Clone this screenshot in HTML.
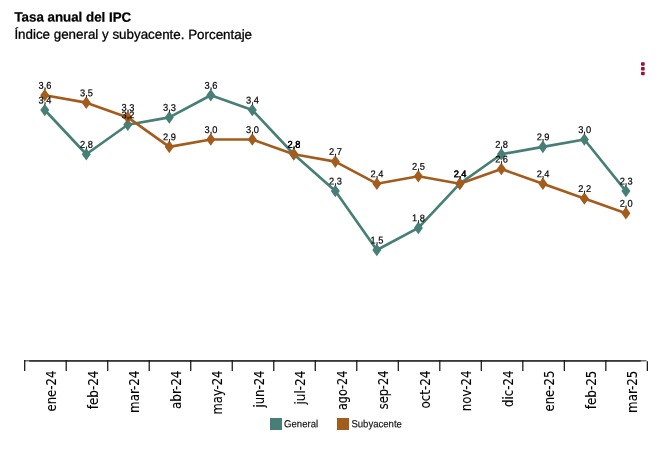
<!DOCTYPE html>
<html lang="es"><head><meta charset="utf-8"><title>Tasa anual del IPC</title>
<style>
html,body{margin:0;padding:0;background:#fff;}
body{width:665px;height:455px;overflow:hidden;position:relative;font-family:"Liberation Sans",Arial,sans-serif;}
svg{position:absolute;left:0;top:0;display:block;}
.t{font-family:"Liberation Sans",Arial,sans-serif;fill:#000;}
.ax{font-family:"DejaVu Sans Condensed","DejaVu Sans",sans-serif;font-size:14px;font-stretch:condensed;fill:#000;stroke:#000;stroke-width:0.1px;}
.dl{font-family:"Liberation Sans",Arial,sans-serif;font-size:9.8px;fill:#000;text-anchor:middle;stroke:#000;stroke-width:0.2px;}
.lg{font-family:"Liberation Sans",Arial,sans-serif;font-size:9.56px;fill:#111;stroke:#111;stroke-width:0.15px;}
</style></head><body>
<svg width="665" height="455" viewBox="0 0 665 455">
<rect width="665" height="455" fill="#fff"/>
<text class="t" transform="translate(14.4,21.55) rotate(0.05)" font-size="13.33" font-weight="bold" stroke="#000" stroke-width="0.25">Tasa anual del IPC</text>
<text class="t" transform="translate(14.4,38.75) rotate(0.05)" font-size="13.37" stroke="#000" stroke-width="0.3">Índice general y subyacente. Porcentaje</text>
<g fill="#9c1033"><rect x="641" y="62.3" width="3.7" height="3.5" rx="0.8"/><rect x="641" y="67" width="3.7" height="3.5" rx="0.8"/><rect x="641" y="71.7" width="3.7" height="3.5" rx="0.8"/></g>

<line x1="24.1" y1="360.8" x2="646.5" y2="360.8" stroke="#6c6c6c" stroke-width="1.4"/>
<line x1="29.3" y1="360.9" x2="640.8" y2="360.9" stroke="#383838" stroke-width="1.6"/>
<g stroke="#151515" stroke-width="1.25" fill="none">
<line x1="24.70" y1="360.1" x2="24.70" y2="371.0"/>
<line x1="66.21" y1="360.1" x2="66.21" y2="371.0"/>
<line x1="107.72" y1="360.1" x2="107.72" y2="371.0"/>
<line x1="149.23" y1="360.1" x2="149.23" y2="371.0"/>
<line x1="190.74" y1="360.1" x2="190.74" y2="371.0"/>
<line x1="232.25" y1="360.1" x2="232.25" y2="371.0"/>
<line x1="273.76" y1="360.1" x2="273.76" y2="371.0"/>
<line x1="315.27" y1="360.1" x2="315.27" y2="371.0"/>
<line x1="356.78" y1="360.1" x2="356.78" y2="371.0"/>
<line x1="398.29" y1="360.1" x2="398.29" y2="371.0"/>
<line x1="439.80" y1="360.1" x2="439.80" y2="371.0"/>
<line x1="481.31" y1="360.1" x2="481.31" y2="371.0"/>
<line x1="522.82" y1="360.1" x2="522.82" y2="371.0"/>
<line x1="564.33" y1="360.1" x2="564.33" y2="371.0"/>
<line x1="605.84" y1="360.1" x2="605.84" y2="371.0"/>
<line x1="647.35" y1="361.3" x2="647.35" y2="371.0"/>
</g>
<text class="ax" transform="translate(56.15,370.6) rotate(-90)" text-anchor="end" textLength="40.9" lengthAdjust="spacingAndGlyphs">ene-24</text>
<text class="ax" transform="translate(97.67,370.6) rotate(-90)" text-anchor="end" textLength="38.6" lengthAdjust="spacingAndGlyphs">feb-24</text>
<text class="ax" transform="translate(139.17,370.6) rotate(-90)" text-anchor="end" textLength="42.3" lengthAdjust="spacingAndGlyphs">mar-24</text>
<text class="ax" transform="translate(180.69,370.6) rotate(-90)" text-anchor="end" textLength="38.4" lengthAdjust="spacingAndGlyphs">abr-24</text>
<text class="ax" transform="translate(222.19,370.6) rotate(-90)" text-anchor="end" textLength="43.9" lengthAdjust="spacingAndGlyphs">may-24</text>
<text class="ax" transform="translate(263.70,370.6) rotate(-90)" text-anchor="end" textLength="36.9" lengthAdjust="spacingAndGlyphs">jun-24</text>
<text class="ax" transform="translate(305.21,370.6) rotate(-90)" text-anchor="end" textLength="34.0" lengthAdjust="spacingAndGlyphs">jul-24</text>
<text class="ax" transform="translate(346.72,370.6) rotate(-90)" text-anchor="end" textLength="39.5" lengthAdjust="spacingAndGlyphs">ago-24</text>
<text class="ax" transform="translate(388.23,370.6) rotate(-90)" text-anchor="end" textLength="38.7" lengthAdjust="spacingAndGlyphs">sep-24</text>
<text class="ax" transform="translate(429.74,370.6) rotate(-90)" text-anchor="end" textLength="37.9" lengthAdjust="spacingAndGlyphs">oct-24</text>
<text class="ax" transform="translate(471.25,370.6) rotate(-90)" text-anchor="end" textLength="40.6" lengthAdjust="spacingAndGlyphs">nov-24</text>
<text class="ax" transform="translate(512.76,370.6) rotate(-90)" text-anchor="end" textLength="36.5" lengthAdjust="spacingAndGlyphs">dic-24</text>
<text class="ax" transform="translate(554.27,370.6) rotate(-90)" text-anchor="end" textLength="40.9" lengthAdjust="spacingAndGlyphs">ene-25</text>
<text class="ax" transform="translate(595.78,370.6) rotate(-90)" text-anchor="end" textLength="38.6" lengthAdjust="spacingAndGlyphs">feb-25</text>
<text class="ax" transform="translate(637.29,370.6) rotate(-90)" text-anchor="end" textLength="42.3" lengthAdjust="spacingAndGlyphs">mar-25</text>
<polyline points="44.75,110.02 86.27,154.22 127.77,124.76 169.28,117.39 210.79,95.29 252.30,110.02 293.81,154.22 335.32,191.06 376.83,250.00 418.34,227.89 459.85,183.69 501.36,154.22 542.88,146.86 584.38,139.49 625.89,191.06" fill="none" stroke="#477f77" stroke-width="2.65" stroke-linejoin="round"/>
<path d="M44.75 103.72 l4.5 6.3 l-4.5 6.3 l-4.5 -6.3 z" fill="#477f77"/>
<path d="M86.27 147.92 l4.5 6.3 l-4.5 6.3 l-4.5 -6.3 z" fill="#477f77"/>
<path d="M127.77 118.46 l4.5 6.3 l-4.5 6.3 l-4.5 -6.3 z" fill="#477f77"/>
<path d="M169.28 111.09 l4.5 6.3 l-4.5 6.3 l-4.5 -6.3 z" fill="#477f77"/>
<path d="M210.79 88.99 l4.5 6.3 l-4.5 6.3 l-4.5 -6.3 z" fill="#477f77"/>
<path d="M252.30 103.72 l4.5 6.3 l-4.5 6.3 l-4.5 -6.3 z" fill="#477f77"/>
<path d="M293.81 147.92 l4.5 6.3 l-4.5 6.3 l-4.5 -6.3 z" fill="#477f77"/>
<path d="M335.32 184.76 l4.5 6.3 l-4.5 6.3 l-4.5 -6.3 z" fill="#477f77"/>
<path d="M376.83 243.69 l4.5 6.3 l-4.5 6.3 l-4.5 -6.3 z" fill="#477f77"/>
<path d="M418.34 221.59 l4.5 6.3 l-4.5 6.3 l-4.5 -6.3 z" fill="#477f77"/>
<path d="M459.85 177.39 l4.5 6.3 l-4.5 6.3 l-4.5 -6.3 z" fill="#477f77"/>
<path d="M501.36 147.92 l4.5 6.3 l-4.5 6.3 l-4.5 -6.3 z" fill="#477f77"/>
<path d="M542.88 140.56 l4.5 6.3 l-4.5 6.3 l-4.5 -6.3 z" fill="#477f77"/>
<path d="M584.38 133.19 l4.5 6.3 l-4.5 6.3 l-4.5 -6.3 z" fill="#477f77"/>
<path d="M625.89 184.76 l4.5 6.3 l-4.5 6.3 l-4.5 -6.3 z" fill="#477f77"/>
<polyline points="44.75,95.29 86.27,102.65 127.77,117.39 169.28,146.86 210.79,139.49 252.30,139.49 293.81,154.22 335.32,161.59 376.83,183.69 418.34,176.32 459.85,183.69 501.36,168.96 542.88,183.69 584.38,198.43 625.89,213.16" fill="none" stroke="#a35c1c" stroke-width="2.65" stroke-linejoin="round"/>
<path d="M44.75 88.99 l4.5 6.3 l-4.5 6.3 l-4.5 -6.3 z" fill="#a35c1c"/>
<path d="M86.27 96.35 l4.5 6.3 l-4.5 6.3 l-4.5 -6.3 z" fill="#a35c1c"/>
<path d="M127.77 111.09 l4.5 6.3 l-4.5 6.3 l-4.5 -6.3 z" fill="#a35c1c"/>
<path d="M169.28 140.56 l4.5 6.3 l-4.5 6.3 l-4.5 -6.3 z" fill="#a35c1c"/>
<path d="M210.79 133.19 l4.5 6.3 l-4.5 6.3 l-4.5 -6.3 z" fill="#a35c1c"/>
<path d="M252.30 133.19 l4.5 6.3 l-4.5 6.3 l-4.5 -6.3 z" fill="#a35c1c"/>
<path d="M293.81 147.92 l4.5 6.3 l-4.5 6.3 l-4.5 -6.3 z" fill="#a35c1c"/>
<path d="M335.32 155.29 l4.5 6.3 l-4.5 6.3 l-4.5 -6.3 z" fill="#a35c1c"/>
<path d="M376.83 177.39 l4.5 6.3 l-4.5 6.3 l-4.5 -6.3 z" fill="#a35c1c"/>
<path d="M418.34 170.02 l4.5 6.3 l-4.5 6.3 l-4.5 -6.3 z" fill="#a35c1c"/>
<path d="M459.85 177.39 l4.5 6.3 l-4.5 6.3 l-4.5 -6.3 z" fill="#a35c1c"/>
<path d="M501.36 162.66 l4.5 6.3 l-4.5 6.3 l-4.5 -6.3 z" fill="#a35c1c"/>
<path d="M542.88 177.39 l4.5 6.3 l-4.5 6.3 l-4.5 -6.3 z" fill="#a35c1c"/>
<path d="M584.38 192.13 l4.5 6.3 l-4.5 6.3 l-4.5 -6.3 z" fill="#a35c1c"/>
<path d="M625.89 206.86 l4.5 6.3 l-4.5 6.3 l-4.5 -6.3 z" fill="#a35c1c"/>
<text class="dl" transform="translate(44.95,103.52) rotate(0.2) scale(0.944,1)">3,4</text>
<text class="dl" transform="translate(86.47,147.72) rotate(0.2) scale(0.944,1)">2,8</text>
<text class="dl" transform="translate(127.97,118.26) rotate(0.2) scale(0.944,1)">3,2</text>
<text class="dl" transform="translate(169.48,110.89) rotate(0.2) scale(0.944,1)">3,3</text>
<text class="dl" transform="translate(210.99,88.79) rotate(0.2) scale(0.944,1)">3,6</text>
<text class="dl" transform="translate(252.50,103.52) rotate(0.2) scale(0.944,1)">3,4</text>
<text class="dl" transform="translate(294.01,147.72) rotate(0.2) scale(0.944,1)">2,8</text>
<text class="dl" transform="translate(335.52,184.56) rotate(0.2) scale(0.944,1)">2,3</text>
<text class="dl" transform="translate(377.03,243.50) rotate(0.2) scale(0.944,1)">1,5</text>
<text class="dl" transform="translate(418.54,221.39) rotate(0.2) scale(0.944,1)">1,8</text>
<text class="dl" transform="translate(460.05,177.19) rotate(0.2) scale(0.944,1)">2,4</text>
<text class="dl" transform="translate(501.56,147.72) rotate(0.2) scale(0.944,1)">2,8</text>
<text class="dl" transform="translate(543.08,140.36) rotate(0.2) scale(0.944,1)">2,9</text>
<text class="dl" transform="translate(584.59,132.99) rotate(0.2) scale(0.944,1)">3,0</text>
<text class="dl" transform="translate(626.10,184.56) rotate(0.2) scale(0.944,1)">2,3</text>
<text class="dl" transform="translate(44.95,88.79) rotate(0.2) scale(0.944,1)">3,6</text>
<text class="dl" transform="translate(86.47,96.15) rotate(0.2) scale(0.944,1)">3,5</text>
<text class="dl" transform="translate(127.97,110.89) rotate(0.2) scale(0.944,1)">3,3</text>
<text class="dl" transform="translate(169.48,140.36) rotate(0.2) scale(0.944,1)">2,9</text>
<text class="dl" transform="translate(210.99,132.99) rotate(0.2) scale(0.944,1)">3,0</text>
<text class="dl" transform="translate(252.50,132.99) rotate(0.2) scale(0.944,1)">3,0</text>
<text class="dl" transform="translate(294.01,147.72) rotate(0.2) scale(0.944,1)">2,8</text>
<text class="dl" transform="translate(335.52,155.09) rotate(0.2) scale(0.944,1)">2,7</text>
<text class="dl" transform="translate(377.03,177.19) rotate(0.2) scale(0.944,1)">2,4</text>
<text class="dl" transform="translate(418.54,169.82) rotate(0.2) scale(0.944,1)">2,5</text>
<text class="dl" transform="translate(460.05,177.19) rotate(0.2) scale(0.944,1)">2,4</text>
<text class="dl" transform="translate(501.56,162.46) rotate(0.2) scale(0.944,1)">2,6</text>
<text class="dl" transform="translate(543.08,177.19) rotate(0.2) scale(0.944,1)">2,4</text>
<text class="dl" transform="translate(584.59,191.93) rotate(0.2) scale(0.944,1)">2,2</text>
<text class="dl" transform="translate(626.10,206.66) rotate(0.2) scale(0.944,1)">2,0</text>
<rect x="270" y="418" width="12" height="12" fill="#477f77"/><text class="lg" transform="translate(284.1,427.3) rotate(0.1) scale(1,1.07)">General</text>
<rect x="337" y="418" width="12" height="12" fill="#a35c1c"/><text class="lg" transform="translate(351.4,427.3) rotate(0.1) scale(1,1.07)">Subyacente</text>
</svg></body></html>
